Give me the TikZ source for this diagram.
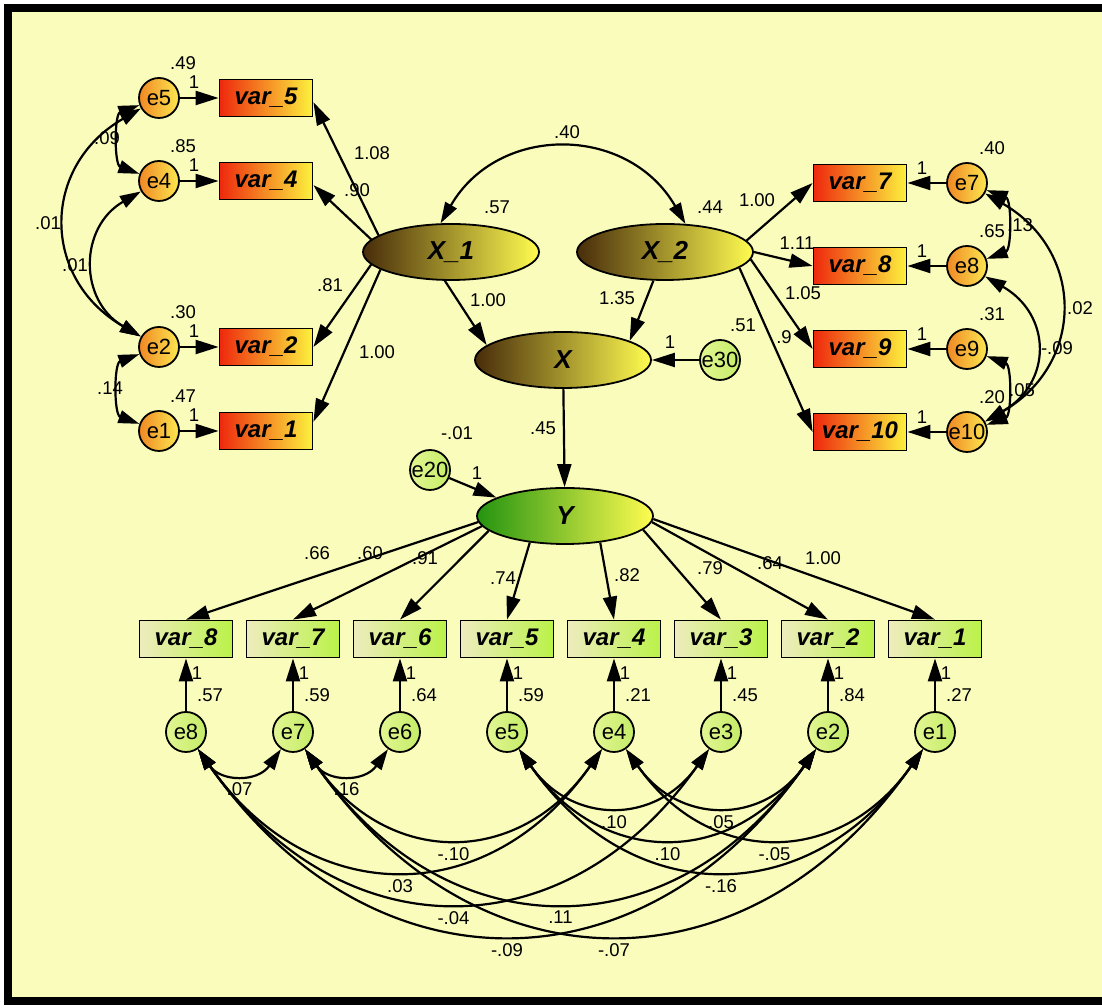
\documentclass[tikz,border=0pt]{standalone}
\usepackage{fontspec}
\setmainfont{Liberation Sans}
\usetikzlibrary{arrows.meta,shapes.geometric,positioning,calc}

\definecolor{bgyel}{RGB}{250,252,188}
\definecolor{boxred}{RGB}{238,40,14}
\definecolor{boxyel}{RGB}{252,242,60}
\definecolor{errorg}{RGB}{240,136,36}
\definecolor{erryel}{RGB}{252,232,80}
\definecolor{latbrn}{RGB}{72,44,10}
\definecolor{latyel}{RGB}{255,252,80}
\definecolor{ygreen}{RGB}{36,148,16}
\definecolor{obscream}{RGB}{238,236,190}
\definecolor{obsgrn}{RGB}{186,242,72}
\definecolor{resgrn}{RGB}{196,236,104}
\definecolor{reslt}{RGB}{226,246,146}

\tikzset{
  obs/.style={draw, line width=1.8pt, minimum width=93pt, minimum height=37pt, inner sep=0pt,
    font=\fontsize{24}{24}\selectfont\bfseries\itshape},
  obsup/.style={obs, left color=boxred, right color=boxyel},
  obsdn/.style={obs, left color=obscream, right color=obsgrn},
  res/.style={circle, draw, line width=1.8pt, minimum size=40pt, inner sep=0pt,
    font=\fontsize{22}{22}\selectfont},
  resup/.style={res, left color=errorg, right color=erryel},
  resdn/.style={res, left color=reslt, right color=resgrn},
  lat/.style={ellipse, draw, line width=1.8pt, minimum width=176pt, minimum height=56pt,
    font=\fontsize{26}{26}\selectfont\bfseries\itshape},
  latbr/.style={lat, left color=latbrn, right color=latyel},
  num/.style={font=\fontsize{18.5}{19}\selectfont, inner sep=1pt},
  reg/.style={line width=2.2pt, -{Triangle[length=23pt,width=14pt]}},
  cov/.style={line width=2.2pt, {Triangle[length=21pt,width=13pt]}-{Triangle[length=21pt,width=13pt]}},
}

\begin{document}
\begin{tikzpicture}[x=1pt,y=1pt]
\useasboundingbox (0,0) rectangle (1102,1008);
\fill[white] (0,0) rectangle (1102,1008);
\fill[bgyel] (8,7) rectangle (1102,1000);
\draw[line width=8pt] (1102,1000) -- (8,1000) -- (8,7) -- (1102,7);

% latent variables
\node[latbr] (X1) at (451,756) {X\_1};
\node[latbr] (X2) at (665,756) {X\_2};
\node[latbr] (X) at (563,648) {X};
\node[lat, left color=ygreen, right color=latyel] (Y) at (565,492) {Y};
\node[resdn] (e30) at (720,648) {e30};
\node[resdn] (e20) at (430,538) {e20};

% left indicators of X_1
\foreach \n/\yy/\vr in {5/910/.49, 4/827/.85, 2/661/.30, 1/577/.47} {
  \node[resup] (e\n) at (159,\yy) {e\n};
  \node[obsup] (v\n) at (266,\yy) {var\_\n};
  \draw[reg] (e\n) -- (v\n);
  \node[num] (ve\n) at ($(e\n)+(24,35)$) {\vr};
  \node[num] (one\n) at ($(e\n)+(35,16)$) {1};
}
\foreach \n/\a/\b/\l/\lx/\ly in {5/167/-5/1.08/372/855, 4/171/-5/.90/357/818,
    2/189/0/.81/330/723, 1/194/11/1.00/377/656} {
  \draw[reg] (X1.\a) -- (v\n.\b);
  \node[num] (lx\n) at (\lx,\ly) {\l};
}

% right indicators of X_2
\foreach \n/\yy/\vr in {7/825/.40, 8/742/.65, 9/659/.31, 10/576/.20} {
  \node[resup] (e\n) at (967,\yy) {e\n};
  \node[obsup] (v\n) at (860,\yy) {var\_\n};
  \draw[reg] (e\n) -- (v\n);
  \node[num] (ve\n) at ($(e\n)+(25,35)$) {\vr};
  \node[num] (one\n) at ($(e\n)+(-45,15)$) {1};
}
\foreach \n/\a/\l/\lx/\ly in {7/8/1.00/757/808, 8/0/1.11/797/765,
    9/355/1.05/803/715, 10/348/.9/784/671} {
  \draw[reg] (X2.\a) -- (v\n.west);
  \node[num] (lx\n) at (\lx,\ly) {\l};
}

% covariances left and right
\draw[cov] (e5) to[out=200,in=160] (e4);
\draw[cov] (e5) to[out=210,in=150,looseness=1.3] (e2);
\draw[cov] (e4) to[out=210,in=150,looseness=1.27] (e2);
\draw[cov] (e2) to[out=200,in=160] (e1);
\node[num] (c54) at (107,870) {.09};
\node[num] (c52) at (48,785) {.01};
\node[num] (c42) at (75,743) {.01};
\node[num] (c21) at (110,620) {.14};
\draw[cov] (e7) to[out=-20,in=20] (e8);
\draw[cov] (e7) to[out=-30,in=30,looseness=1.3] (e10);
\draw[cov] (e8) to[out=-30,in=30,looseness=1.37] (e10);
\draw[cov] (e9) to[out=-20,in=20] (e10);
\node[num] (c78) at (1020,783) {.13};
\node[num] (c710) at (1080,700) {.02};
\node[num] (c810) at (1057,660) {-.09};
\node[num] (c910) at (1022,618) {.05};

% structural part
\draw[cov] (X1.110) to[out=60,in=120,looseness=1.2] (X2.54);
\draw[reg] (X1.258) -- (X.169);
\draw[reg] (X2.248) -- (X.16);
\draw[reg] (e30) -- (X);
\draw[reg] (X) -- (Y);
\draw[reg] (e20) -- (Y.165);
\node[num] (cX) at (567,876) {.40};
\node[num] (vX1) at (497,801) {.57};
\node[num] (vX2) at (710,801) {.44};
\node[num] (bX1) at (488,708) {1.00};
\node[num] (bX2) at (617,710) {1.35};
\node[num] (ve30) at (743,683) {.51};
\node[num] (one30) at (670,666) {1};
\node[num] (bXY) at (543,580) {.45};
\node[num] (ve20) at (457,575) {-.01};
\node[num] (one20) at (477,535) {1};

% indicators of Y
\foreach \i/\ld/\vr/\ang/\lx/\ly in {8/.66/.57/184/317/455, 7/.60/.59/187/370/455,
    6/.91/.64/191/425/450, 5/.74/.59/217/503/430, 4/.82/.21/323/627/433,
    3/.79/.45/350/710/440, 2/.64/.84/356/770/445, 1/1.00/.27/358/823/450} {
  \pgfmathsetmacro\xx{186+107*(8-\i)}
  \node[obsdn] (yv\i) at (\xx,369) {var\_\i};
  \node[resdn] (ye\i) at (\xx,276) {e\i};
  \draw[reg] (ye\i) -- (yv\i);
  \draw[reg] (Y.\ang) -- (yv\i.north);
  \node[num] (yl\i) at (\lx,\ly) {\ld};
  \node[num] (yr\i) at ($(ye\i)+(24,37)$) {\vr};
  \node[num] (yo\i) at ($(ye\i)+(11,59)$) {1};
}

% residual covariances of Y indicators
\foreach \a/\b/\c in {8/7/.07, 7/6/.16, 7/4/-.10, 8/4/.03, 8/3/-.04, 8/2/-.09,
    7/2/.11, 7/1/-.07, 5/3/.10, 4/2/.05, 5/2/.10, 4/1/-.05, 5/1/-.16}
  \draw[cov] (ye\a) to[out=-55,in=-125,looseness=1.25] node[num,below=7pt] (yc\a\b) {\c} (ye\b);
\end{tikzpicture}
\end{document}
